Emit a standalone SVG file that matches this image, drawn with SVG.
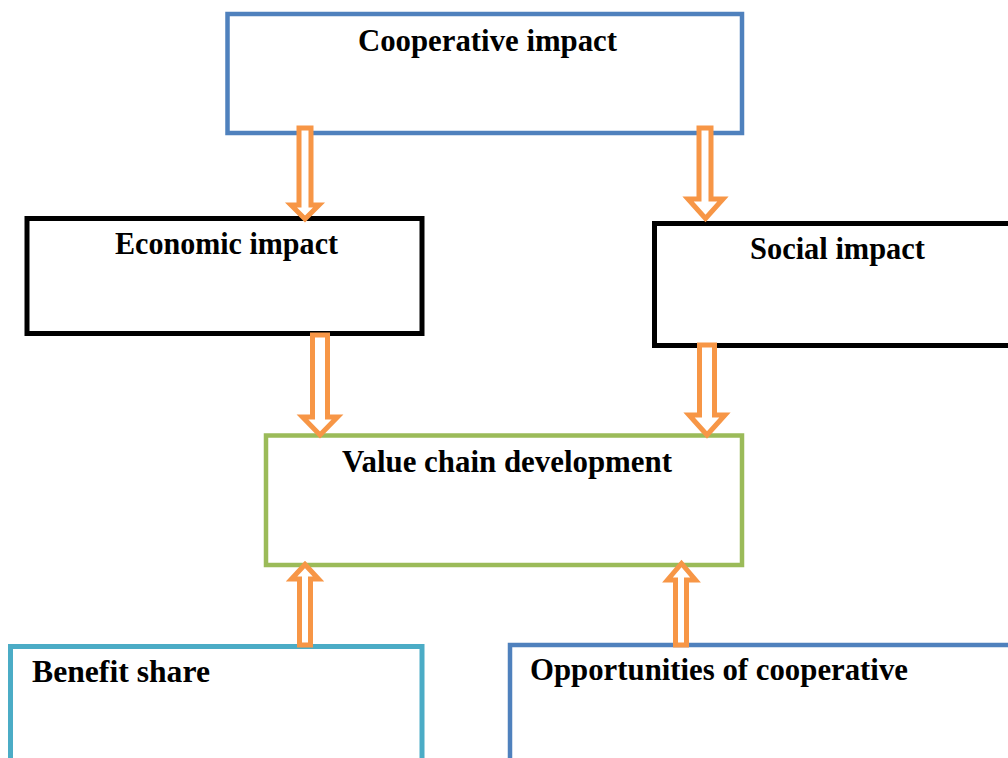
<svg xmlns="http://www.w3.org/2000/svg" width="1008" height="758" viewBox="0 0 1008 758">
  <style>
    .box { fill: #ffffff; stroke-width: 4.5; }
    .blue { stroke: #4f81bd; }
    .black { stroke: #000000; stroke-width: 5; }
    .green { stroke: #9bbb59; }
    .cyan { stroke: #4bacc6; stroke-width: 5; }
    .label { font-family: 'Liberation Serif', serif; font-weight: 700; font-size: 31px; fill: #000000; }
    .arrow { fill: #ffffff; stroke: #f79646; stroke-width: 5; stroke-linejoin: miter; }
  </style>
  <rect width="1008" height="758" fill="#ffffff"/>

  <g id="cooperative-impact">
    <rect class="box blue" x="227.5" y="14" width="514.5" height="119"/>
    <text class="label" x="358" y="51" textLength="259" lengthAdjust="spacingAndGlyphs">Cooperative impact</text>
  </g>

  <g id="economic-impact">
    <rect class="box black" x="27" y="218.5" width="395" height="115"/>
    <text class="label" x="115" y="254" textLength="223" lengthAdjust="spacingAndGlyphs">Economic impact</text>
  </g>

  <g id="social-impact">
    <rect class="box black" x="654.5" y="223.5" width="370" height="122"/>
    <text class="label" x="750" y="259" textLength="175" lengthAdjust="spacingAndGlyphs">Social impact</text>
  </g>

  <g id="value-chain-development">
    <rect class="box green" x="266" y="435.5" width="476" height="129.5"/>
    <text class="label" x="342" y="472" textLength="330" lengthAdjust="spacingAndGlyphs">Value chain development</text>
  </g>

  <g id="benefit-share">
    <rect class="box cyan" x="10.5" y="646.5" width="411.5" height="130"/>
    <text class="label" x="32" y="682" textLength="178" lengthAdjust="spacingAndGlyphs">Benefit share</text>
  </g>

  <g id="opportunities-of-cooperative">
    <rect class="box blue" x="510" y="645" width="520" height="130"/>
    <text class="label" x="530" y="680" textLength="378" lengthAdjust="spacingAndGlyphs">Opportunities of cooperative</text>
  </g>

  <g id="connectors">
    <!-- hollow block arrows: cooperative impact down to economic / social -->
    <path class="arrow" d="M299,128 H311 V205 H319 L305,219 L291,205 H299 Z"/>
    <path class="arrow" d="M699,128 H711 V199 H723 L705.5,218.5 L688,199 H699 Z"/>
    <!-- economic / social down to value chain -->
    <path class="arrow" d="M312.5,335 H327.5 V417 H337.5 L320,435 L302.5,417 H312.5 Z"/>
    <path class="arrow" d="M699.5,345 H714.5 V415 H725 L707,435 L689,415 H699.5 Z"/>
    <!-- benefit share / opportunities up to value chain -->
    <path class="arrow" d="M299.5,645 V579 H291.5 L305,564.5 L318.5,579 H310.5 V645 Z"/>
    <path class="arrow" d="M675.5,645 V580 H667.5 L681.5,563.5 L695.5,580 H686.5 V645 Z"/>
  </g>
</svg>
